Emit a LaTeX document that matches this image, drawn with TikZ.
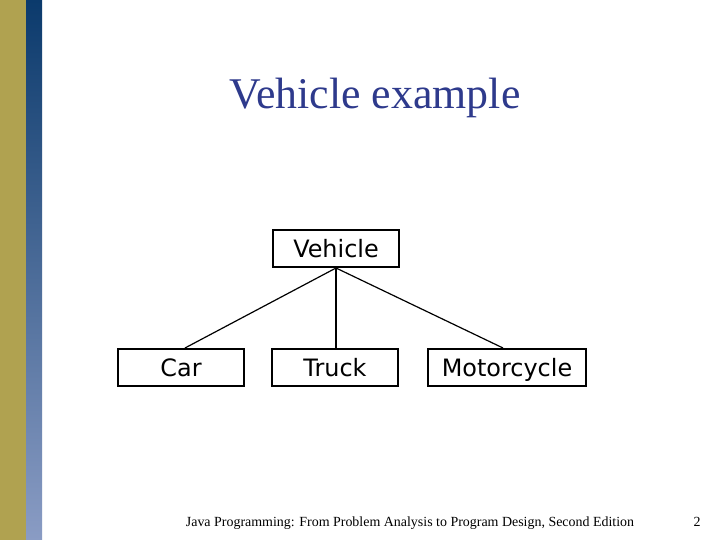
\documentclass[tikz,border=0pt]{standalone}
\usepackage{fontspec}
\setmainfont{Liberation Serif}
\newfontfamily\boxfont{DejaVu Sans}
\definecolor{olivebar}{HTML}{B0A250}
\definecolor{bluetop}{HTML}{0B3A6C}
\definecolor{bluebot}{HTML}{8A9CC4}
\definecolor{titleblue}{HTML}{2E3A8C}
\tikzset{
  classbox/.style={draw=black, line width=2bp, fill=white, minimum width=126bp, minimum height=37bp, inner sep=0pt, text height=18bp, text depth=0bp, font=\boxfont\fontsize{24}{26}\selectfont},
  thinlink/.style={line width=1.2bp},
  thicklink/.style={line width=2.5bp}
}
\begin{document}
\begin{tikzpicture}[x=1bp,y=-1bp]
\useasboundingbox (0,0) rectangle (720,540);
\fill[white] (0,0) rectangle (720,540);
\fill[olivebar] (0,0) rectangle (26,540);
\shade[top color=bluetop, bottom color=bluebot] (26,0) rectangle (42,540);
\node[anchor=base, text=titleblue, font=\fontsize{44}{48}\selectfont] (title) at (375,109) {Vehicle example};
\node[classbox] (vehicle) at (336,248.5) {Vehicle};
\node[classbox] (car) at (181,367.5) {Car};
\node[classbox] (truck) at (335,367.5) {Truck};
\node[classbox, minimum width=158bp] (moto) at (507,367.5) {Motorcycle};
\coordinate (vb) at (vehicle.south);
\draw[thinlink] (vb) -- ([xshift=4bp]car.north);
\draw[thicklink] (vb) -- (vb |- truck.north);
\draw[thinlink] (vb) -- ([xshift=-4bp]moto.north);
\node[anchor=base, font=\fontsize{14}{16}\selectfont] (footer) at (410,526) {Java Programming: From Problem Analysis to Program Design, Second Edition};
\node[anchor=base, font=\fontsize{14}{16}\selectfont] (page) at (697,526) {2};
\end{tikzpicture}
\end{document}
